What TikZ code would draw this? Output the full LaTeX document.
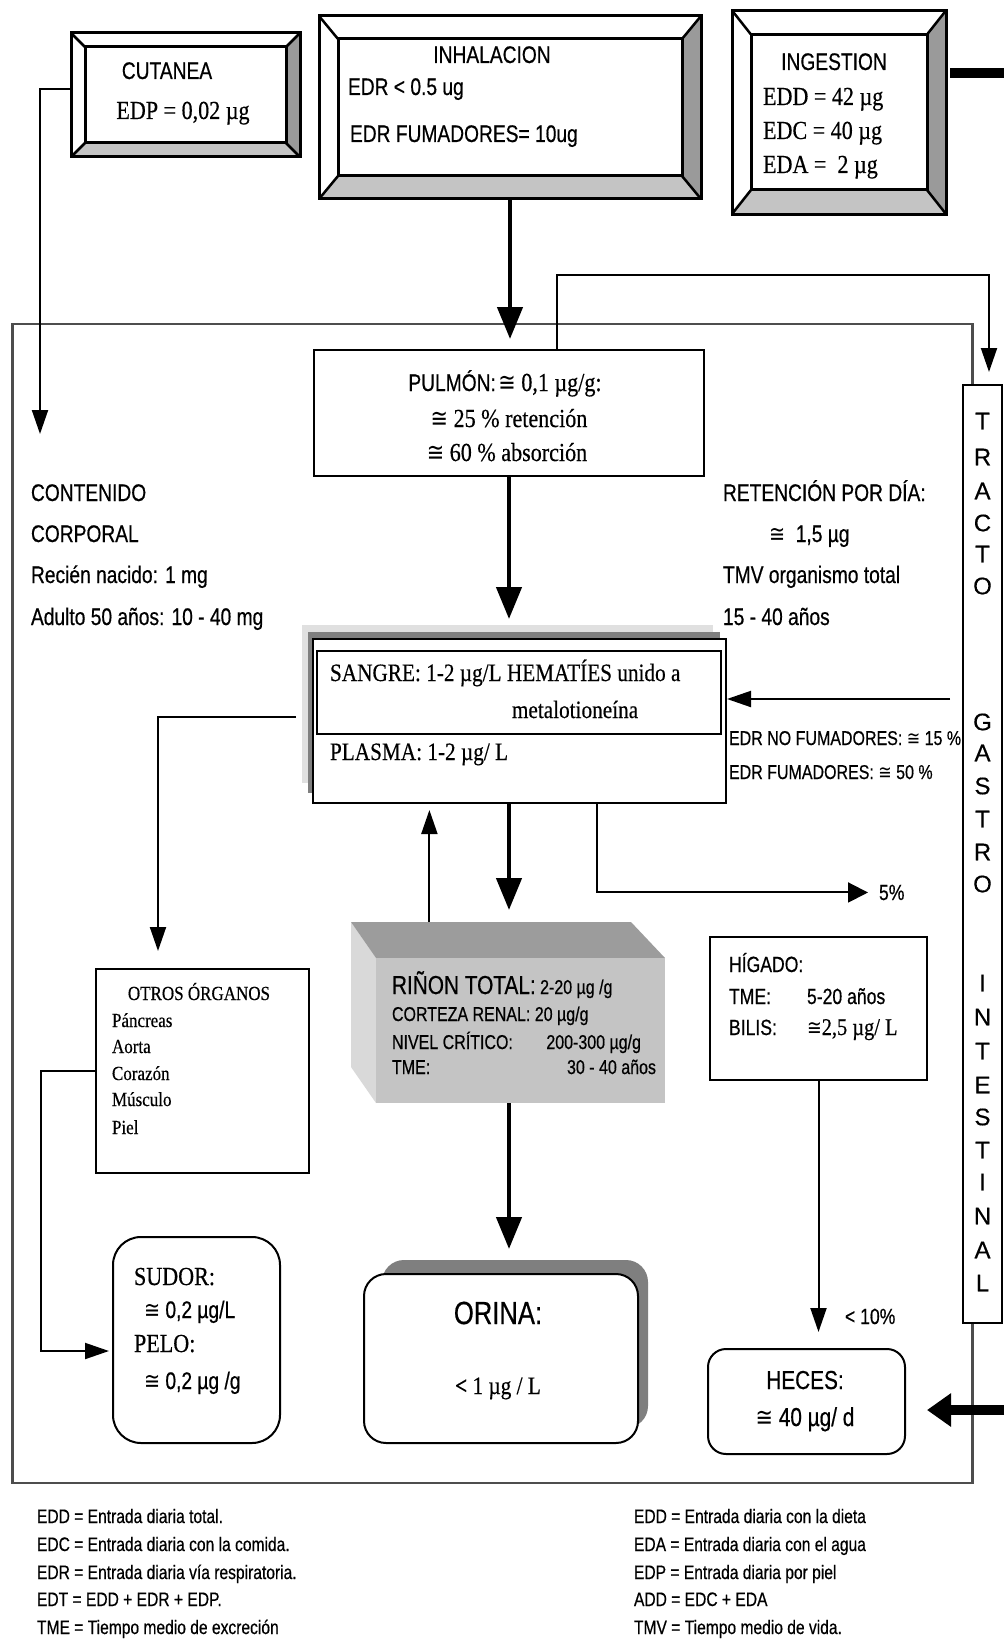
\documentclass[tikz,border=0pt]{standalone}
\usepackage{fontspec}
\setmainfont{Liberation Serif}
\newfontfamily\fSans[FakeStretch=0.8,FakeBold=0.5]{Liberation Sans}
\newfontfamily\fSerif[FakeStretch=0.85,FakeBold=0.4]{Liberation Serif}
\newfontfamily\fWide[FakeBold=0.4]{Liberation Sans}
\newfontfamily\fDjv[FakeStretch=0.8]{DejaVu Sans}
\usetikzlibrary{arrows.meta,fit,calc}
\newcommand\Fz[1]{\fontsize{#1}{#1}\selectfont}
\newcommand\cg{{\fDjv ≅}}
\definecolor{bevR}{HTML}{9A9A9A}
\definecolor{bevB}{HTML}{C4C4C4}
\definecolor{bodyc}{HTML}{4D4D4D}
\definecolor{rkL}{HTML}{D9D9D9}
\definecolor{rkT}{HTML}{9C9C9C}
\definecolor{rkF}{HTML}{C4C4C4}
\definecolor{shL}{HTML}{E0E0E0}
\definecolor{shD}{HTML}{7F7F7F}
% name x1 y1 x2 y2 dx dy
\newcommand\bevel[7]{%
 \coordinate (#1-a) at (#2,#3);
 \coordinate (#1-b) at (#4,#5);
 \node[inner sep=0pt, fit=(#1-a)(#1-b)] (#1) {};
 \fill[white] (#2,#3) rectangle (#4,#5);
 \fill[bevR] (#4,#3) -- (#4,#5) -- ({#4-#6},{#5-#7}) -- ({#4-#6},{#3+#7}) -- cycle;
 \fill[bevB] (#2,#5) -- (#4,#5) -- ({#4-#6},{#5-#7}) -- ({#2+#6},{#5-#7}) -- cycle;
 \draw[line width=3pt] (#2,#3) rectangle (#4,#5);
 \draw[line width=3pt] ({#2+#6},{#3+#7}) rectangle ({#4-#6},{#5-#7});
 \draw[line width=2.5pt] (#2,#3) -- ({#2+#6},{#3+#7}) (#4,#3) -- ({#4-#6},{#3+#7})
   (#2,#5) -- ({#2+#6},{#5-#7}) (#4,#5) -- ({#4-#6},{#5-#7});
}
\begin{document}
\begin{tikzpicture}[x=1pt,y=-1pt,
  tx/.style={inner sep=0pt, outer sep=0pt},
  rect/.style={draw, line width=2pt, fill=white, inner sep=0pt},
  thin/.style={line width=2pt, -{Triangle[length=24pt,width=16pt]}},
  thk/.style={line width=4.5pt, -{Triangle[length=32pt,width=25pt]}},
  bar/.style={line width=10pt},
]
\useasboundingbox (0,0) rectangle (1004,1640);
\fill[white] (0,0) rectangle (1004,1640);

% outer body
\node[draw=bodyc, line width=2.5pt, inner sep=0pt, minimum width=960pt, minimum height=1159pt] (body) at (492.5,903.5) {};

% top bevel boxes
\bevel{cut}{71}{33}{300}{157}{14}{14}
\bevel{inh}{319}{16}{701}{199}{19}{23}
\bevel{ing}{732}{10.5}{946}{214}{19}{24}

\node[tx, anchor=base, font=\fSans\Fz{24}] (cutT) at (167,79) {CUTANEA};
\node[tx, anchor=base, font=\fSerif\Fz{26}] (cutV) at (183,119) {EDP = 0,02 µg};

\node[tx, anchor=base, font=\fSans\Fz{24}] (inhT) at (492,63) {INHALACION};
\node[tx, anchor=base west, font=\fSans\Fz{24}] (inhA) at (348,95) {EDR < 0.5 ug};
\node[tx, anchor=base west, font=\fSans\Fz{24}] (inhB) at (350,142) {EDR FUMADORES= 10ug};

\node[tx, anchor=base, font=\fSans\Fz{24}] (ingT) at (834,70) {INGESTION};
\node[tx, anchor=base west, font=\fSerif\Fz{26}] (ingA) at (763,105) {EDD = 42 µg};
\node[tx, anchor=base west, font=\fSerif\Fz{26}] (ingB) at (763,139) {EDC = 40 µg};
\node[tx, anchor=base west, font=\fSerif\Fz{26}] (ingC) at (763,173) {EDA = \ 2 µg};

% tracto box
\node[rect, minimum width=39pt, minimum height=938pt] (tracto) at (982.5,854) {};
\foreach \l/\y [count=\i] in {T/421,R/457,A/491,C/523,T/554,O/586,G/722,A/753,S/786,T/819,R/852,O/884,I/983,N/1017,T/1051,E/1085,S/1117,T/1150,I/1182,N/1216,A/1250,L/1283}
  \node[tx, font=\fWide\Fz{24}] (tl\i) at (982.5,\y) {\l};

% pulmon
\node[rect, minimum width=390pt, minimum height=126pt] (pulmon) at (509,413) {};
\node[tx, anchor=base] (pu1) at (505,391) {{\fSans\Fz{24}PULMÓN:} {\fSerif\Fz{26}\cg{} 0,1 µg/g:}};
\node[tx, anchor=base, font=\fSerif\Fz{26}] (pu2) at (509,427) {\cg{} 25 \% retención};
\node[tx, anchor=base, font=\fSerif\Fz{26}] (pu3) at (507,461) {\cg{} 60 \% absorción};

% left and right texts
\node[tx, anchor=base west, font=\fSans\Fz{24}] (lc1) at (31,501) {CONTENIDO};
\node[tx, anchor=base west, font=\fSans\Fz{24}] (lc2) at (31,542) {CORPORAL};
\node[tx, anchor=base west, font=\fSans\Fz{24}] (lc3) at (31,583) {Recién nacido: 1 mg};
\node[tx, anchor=base west, font=\fSans\Fz{24}] (lc4) at (31,625) {Adulto 50 años: 10 - 40 mg};
\node[tx, anchor=base west, font=\fSans\Fz{24}] (rc1) at (723,501) {RETENCIÓN POR DÍA:};
\node[tx, anchor=base west, font=\fSans\Fz{24}] (rc2) at (769,542) {\cg\ \ 1,5 µg};
\node[tx, anchor=base west, font=\fSans\Fz{24}] (rc3) at (723,583) {TMV organismo total};
\node[tx, anchor=base west, font=\fSans\Fz{24}] (rc4) at (723,625) {15 - 40 años};

% sangre
\fill[shL] (302,625) rectangle (713,783);
\fill[shD] (308,632) rectangle (720,793);
\node[rect, minimum width=413pt, minimum height=164pt] (sangre) at (519.5,721) {};
\node[draw, line width=2pt, inner sep=0pt, minimum width=404pt, minimum height=83pt] (hem) at (519,692.5) {};
\node[tx, anchor=base west, font=\fSerif\Fz{25}] (sg1) at (330,681) {SANGRE: 1-2 µg/L HEMATÍES unido a};
\node[tx, anchor=base, font=\fSerif\Fz{25}] (sg2) at (575,718) {metalotioneína};
\node[tx, anchor=base west, font=\fSerif\Fz{25}] (sg3) at (330,760) {PLASMA: 1-2 µg/ L};

\node[tx, anchor=base west, font=\fSans\Fz{20}] (edr1) at (729,745) {EDR NO FUMADORES: \cg{} 15 \%};
\node[tx, anchor=base west, font=\fSans\Fz{20}] (edr2) at (729,779) {EDR FUMADORES: \cg{} 50 \%};

% otros organos
\node[rect, minimum width=213pt, minimum height=204pt] (otros) at (202.5,1071) {};
\node[tx, anchor=base, font=\fSerif\Fz{20}] (ot0) at (199,1000) {OTROS ÓRGANOS};
\node[tx, anchor=base west, font=\fSerif\Fz{20}] (ot1) at (112,1027) {Páncreas};
\node[tx, anchor=base west, font=\fSerif\Fz{20}] (ot2) at (112,1053) {Aorta};
\node[tx, anchor=base west, font=\fSerif\Fz{20}] (ot3) at (112,1080) {Corazón};
\node[tx, anchor=base west, font=\fSerif\Fz{20}] (ot4) at (112,1106) {Músculo};
\node[tx, anchor=base west, font=\fSerif\Fz{20}] (ot5) at (112,1134) {Piel};

% rinon 3D box
\coordinate (rbl) at (351,922);
\coordinate (rbr) at (631,922);
\fill[rkL] (rbl) -- (376,958) -- (376,1103) -- (351,1067) -- cycle;
\fill[rkT] (rbl) -- (rbr) -- (665,958) -- (376,958) -- cycle;
\node[fill=rkF, inner sep=0pt, minimum width=289pt, minimum height=145pt] (rinon) at (520.5,1030.5) {};
\node[tx, anchor=base west] (rk1) at (392,994) {{\fSans\Fz{26}RIÑON TOTAL:}{\fSans\Fz{20} 2-20 µg /g}};
\node[tx, anchor=base west, font=\fSans\Fz{20}] (rk2) at (392,1021) {CORTEZA RENAL: 20 µg/g};
\node[tx, anchor=base west, font=\fSans\Fz{20}] (rk3) at (392,1049) {NIVEL CRÍTICO:};
\node[tx, anchor=base east, font=\fSans\Fz{20}] (rk3b) at (641,1049) {200-300 µg/g};
\node[tx, anchor=base west, font=\fSans\Fz{20}] (rk4) at (392,1074) {TME:};
\node[tx, anchor=base east, font=\fSans\Fz{20}] (rk4b) at (656,1074) {30 - 40 años};

% higado
\node[rect, minimum width=217pt, minimum height=143pt] (hig) at (818.5,1008.5) {};
\node[tx, anchor=base west, font=\fSans\Fz{22}] (hg1) at (729,972) {HÍGADO:};
\node[tx, anchor=base west, font=\fSans\Fz{22}] (hg2) at (729,1004) {TME:};
\node[tx, anchor=base west, font=\fSans\Fz{22}] (hg2b) at (807,1004) {5-20 años};
\node[tx, anchor=base west, font=\fSans\Fz{22}] (hg3) at (729,1035) {BILIS:};
\node[tx, anchor=base west] (hg3b) at (807,1035) {{\fSans\Fz{22}\cg}{\fSerif\Fz{24}2,5 µg/ L}};

% sudor
\node[rect, rounded corners=28pt, minimum width=167pt, minimum height=206pt] (sudor) at (196.5,1340) {};
\node[tx, anchor=base west, font=\fSerif\Fz{26}] (su1) at (134,1285) {SUDOR:};
\node[tx, anchor=base west, font=\fSans\Fz{24}] (su2) at (144,1318) {\cg{} 0,2 µg/L};
\node[tx, anchor=base west, font=\fSerif\Fz{26}] (su3) at (134,1352) {PELO:};
\node[tx, anchor=base west, font=\fSans\Fz{24}] (su4) at (144,1389) {\cg{} 0,2 µg /g};

% orina
\fill[shD, rounded corners=22pt] (382,1260) rectangle (648,1428);
\node[rect, rounded corners=22pt, minimum width=274pt, minimum height=169pt] (orina) at (501,1358.5) {};
\node[tx, anchor=base, font=\fSans\Fz{32}] (or1) at (498,1324) {ORINA:};
\node[tx, anchor=base, font=\fSerif\Fz{25}] (or2) at (498,1394) {\textbf{<} 1 µg / L};

% heces
\node[rect, rounded corners=18pt, minimum width=197pt, minimum height=105pt] (hec) at (806.5,1401.5) {};
\node[tx, anchor=base, font=\fSans\Fz{26}] (he1) at (805,1389) {HECES:};
\node[tx, anchor=base, font=\fSans\Fz{26}] (he2) at (805,1426) {\cg{} 40 µg/ d};

% small labels
\node[tx, anchor=base west, font=\fSans\Fz{22}] (p5) at (879,900) {5\%};
\node[tx, anchor=base west, font=\fSans\Fz{22}] (p10) at (845,1324) {< 10\%};

% legend
\node[tx, anchor=base west, font=\fSans\Fz{19.5}] (lg1) at (37,1523) {EDD = Entrada diaria total.};
\node[tx, anchor=base west, font=\fSans\Fz{19.5}] (lg2) at (37,1551) {EDC = Entrada diaria con la comida.};
\node[tx, anchor=base west, font=\fSans\Fz{19.5}] (lg3) at (37,1579) {EDR = Entrada diaria vía respiratoria.};
\node[tx, anchor=base west, font=\fSans\Fz{19.5}] (lg4) at (37,1606) {EDT = EDD + EDR + EDP.};
\node[tx, anchor=base west, font=\fSans\Fz{19.5}] (lg5) at (37,1634) {TME = Tiempo medio de excreción};
\node[tx, anchor=base west, font=\fSans\Fz{19.5}] (lg6) at (634,1523) {EDD = Entrada diaria con la dieta};
\node[tx, anchor=base west, font=\fSans\Fz{19.5}] (lg7) at (634,1551) {EDA = Entrada diaria con el agua};
\node[tx, anchor=base west, font=\fSans\Fz{19.5}] (lg8) at (634,1579) {EDP = Entrada diaria por piel};
\node[tx, anchor=base west, font=\fSans\Fz{19.5}] (lg9) at (634,1606) {ADD = EDC + EDA};
\node[tx, anchor=base west, font=\fSans\Fz{19.5}] (lg10) at (634,1634) {TMV = Tiempo medio de vida.};

% connectors
\coordinate (cutend) at (40,434);
\draw[thin] ([yshift=6pt]cut.west) -| (cutend);

\coordinate (ingR) at (1004,73);
\draw[bar] ([xshift=4pt]ing.east |- ingR) -- (ingR);

\draw[thk, shorten >=10pt] (inh.south) -- (inh.south |- pulmon.north);
\draw[thin, shorten >=12pt] ([xshift=48pt]pulmon.north) -- ++(0,-74) -| ([xshift=6.5pt]tracto.north);

\draw[thk, shorten >=19pt] (pulmon.south) -- (pulmon.south |- sangre.north);

\coordinate (trS) at (950,699);
\draw[thin] (trS) -- (trS -| sangre.east);

\coordinate (sgL) at (296,717);
\draw[thin] (sgL) -| ([xshift=-44.5pt,yshift=17pt]otros.north);

\draw[thin, shorten >=3pt] (otros.west) -- ++(-54,0) |- ([yshift=-11pt]sudor.west);

\draw[thk, shorten >=12pt] (pulmon.south |- sangre.south) -- (pulmon.south |- rbl);
\coordinate (rkup) at ($(rbl)!0.28!(rbr)$);
\draw[thin, shorten >=6pt] (rkup) -- (rkup |- sangre.south);
\draw[line width=2pt, -{Triangle[length=20pt,width=20pt]}, shorten >=11pt] ([xshift=77.5pt]sangre.south) |- (p5.west);

\draw[thk, shorten >=24pt] (pulmon.south |- rinon.south) -- (pulmon.south |- orina.north);

\draw[thin, shorten >=16pt] (hig.south) -- (hig.south |- hec.north);

\coordinate (hecR) at (1004,1410);
\draw[bar, -{Triangle[length=24pt,width=32pt]}] (hecR) -- ([xshift=21pt]hec.east |- hecR);
\end{tikzpicture}
\end{document}
